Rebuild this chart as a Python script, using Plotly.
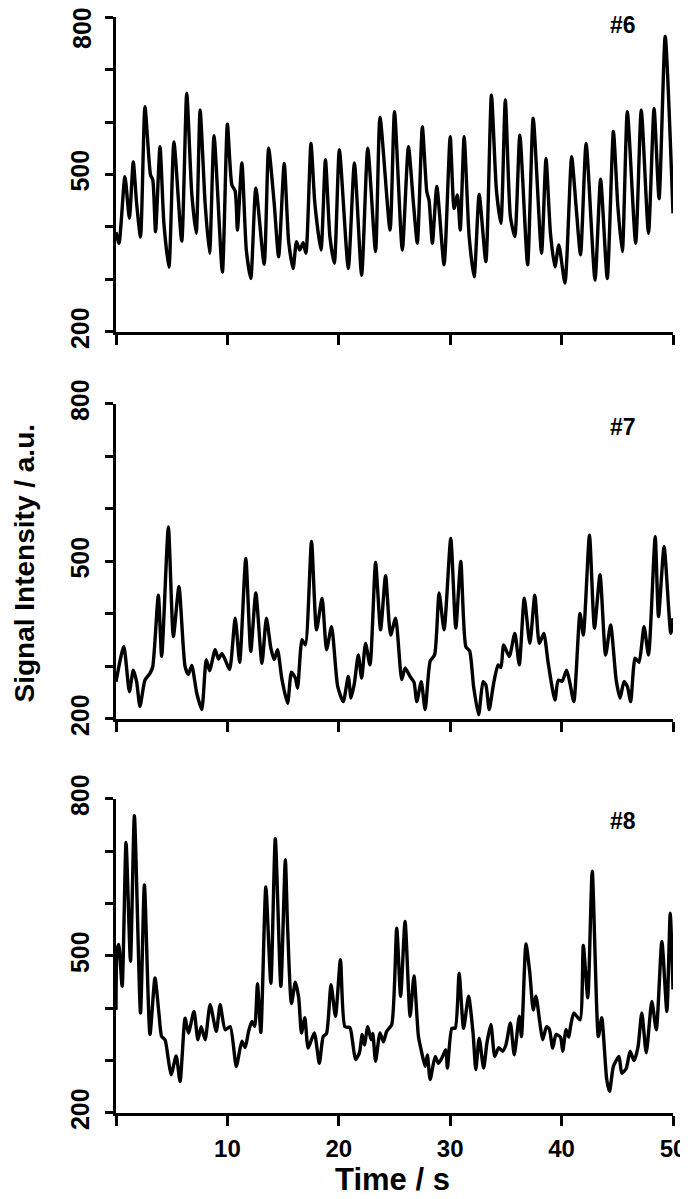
import plotly.graph_objects as go
from plotly.subplots import make_subplots

# signal #6
t6 = [0, 0.27, 0.8, 1.2, 1.55, 1.85, 2.2, 2.6, 3.1, 3.3, 3.55, 3.95, 4.3, 4.75, 5.2, 5.9,
      6.35, 6.8, 7.2, 7.55, 8.0, 8.4, 8.8, 9.55, 10.0, 10.4, 10.7, 10.9, 11.3, 11.7, 12.1,
      12.55, 13.3, 13.7, 14.2, 14.6, 15.1, 15.5, 15.9, 16.2, 16.5, 16.8, 17.05, 17.5, 17.85,
      18.4, 18.8, 19.2, 19.6, 20.05, 20.85, 21.4, 22.05, 22.6, 23.3, 23.7, 24.6, 25.0, 25.7,
      26.25, 26.7, 27.05, 27.5, 27.9, 28.1, 28.4, 28.8, 29.45, 30.0, 30.35, 30.65, 30.9,
      31.25, 31.7, 32.15, 32.6, 33.2, 33.7, 34.15, 34.55, 34.95, 35.4, 35.8, 36.25, 36.95,
      37.45, 38.2, 38.6, 39.0, 39.4, 39.75, 40.3, 40.9, 41.3, 41.7, 42.2, 43.0, 43.5, 44.1,
      44.65, 45.05, 45.45, 45.9, 46.65, 47.15, 47.8, 48.3, 48.75, 49.3, 50.0]
s6 = [390, 369, 496, 417, 524, 445, 381, 629, 499, 490, 391, 553, 407, 323, 562, 373,
      655, 464, 388, 623, 445, 350, 574, 314, 596, 480, 468, 394, 522, 356, 302,
      474, 329, 550, 445, 343, 521, 372, 321, 372, 356, 370, 350, 559, 445,
      356, 528, 382, 331, 547, 321, 522, 308, 550, 353, 609, 394, 620, 356,
      553, 445, 369, 591, 467, 451, 369, 477, 328, 572, 435, 461, 394,
      572, 382, 305, 462, 334, 651, 470, 407, 642, 420, 382, 575, 328,
      607, 350, 530, 388, 324, 366, 293, 534, 439, 347, 559, 299, 491, 302,
      582, 439, 353, 620, 369, 623, 388, 626, 454, 763, 426]

# signal #7
t7 = [0, 0.7, 1.2, 1.55, 1.85, 2.15, 2.6, 3.05, 3.3, 3.8, 4.1, 4.7, 5.15, 5.65, 6.2, 6.5,
      6.8, 7.25, 7.7, 8.1, 8.4, 8.9, 9.2, 9.5, 9.8, 10.2, 10.7, 11.1, 11.65, 12.1, 12.55,
      13.1, 13.5, 13.9, 14.2, 14.5, 14.9, 15.4, 15.75, 16.1, 16.3, 16.7, 17.0, 17.55, 18.0,
      18.5, 18.9, 19.35, 19.9, 20.4, 20.85, 21.1, 21.4, 21.75, 22.05, 22.4, 22.8, 23.3,
      23.75, 24.2, 24.65, 25.1, 25.65, 25.95, 26.4, 26.75, 27.0, 27.4, 27.75, 28.2, 28.6,
      29.0, 29.45, 30.05, 30.5, 30.95, 31.4, 31.75, 32.1, 32.55, 32.95, 33.2, 33.5, 33.9,
      34.3, 34.55, 34.8, 35.3, 35.8, 36.2, 36.65, 37.15, 37.6, 38.0, 38.4, 38.8, 39.4,
      39.7, 40.05, 40.45, 40.75, 41.1, 41.65, 41.95, 42.5, 42.95, 43.45, 43.95, 44.4,
      44.9, 45.25, 45.6, 45.9, 46.2, 46.6, 46.95, 47.4, 47.8, 48.4, 48.7, 49.2, 49.8, 50.0]
s7 = [271, 338, 252, 293, 271, 224, 274, 287, 300, 436, 319, 566, 357, 452, 300, 285,
      302, 249, 218, 313, 292, 332, 314, 325, 313, 294, 392, 308, 506, 329, 440,
      306, 392, 335, 313, 332, 275, 230, 289, 278, 259, 351, 341, 538, 370,
      430, 332, 376, 262, 233, 281, 240, 268, 322, 278, 344, 303, 498,
      370, 473, 360, 392, 275, 297, 281, 270, 233, 271, 218, 310, 322,
      440, 370, 544, 373, 500, 338, 329, 262, 208, 271, 265, 218, 268,
      303, 298, 341, 319, 363, 303, 430, 344, 436, 344, 363, 306, 236,
      274, 272, 293, 268, 233, 401, 360, 550, 373, 475, 322, 379,
      274, 240, 271, 262, 233, 316, 308, 376, 322, 547, 395, 528, 363, 392]

# signal #8
t8 = [0, 0.1, 0.25, 0.55, 0.9, 1.3, 1.65, 2.2, 2.55, 3.05, 3.5, 3.85, 4.1, 4.4, 4.7, 4.95,
      5.4, 5.75, 6.2, 6.5, 7.0, 7.35, 7.65, 8.0, 8.45, 9.0, 9.35, 9.8, 10.25, 10.8, 11.3,
      11.6, 11.9, 12.2, 12.45, 12.7, 13.0, 13.45, 13.9, 14.3, 14.8, 15.2, 15.4, 15.75, 16.1,
      16.4, 16.65, 16.95, 17.25, 17.8, 18.25, 18.6, 18.9, 19.3, 19.7, 20.15, 20.55, 21.0,
      21.25, 21.5, 21.85, 22.1, 22.3, 22.6, 22.9, 23.05, 23.3, 23.7, 24.0, 24.3, 24.75,
      25.2, 25.55, 25.95, 26.4, 26.75, 27.15, 27.45, 27.75, 27.95, 28.2, 28.65, 28.95,
      29.25, 29.6, 29.75, 30.15, 30.45, 30.8, 31.2, 31.65, 32.05, 32.3, 32.6, 33.0, 33.3,
      33.65, 34.0, 34.35, 34.7, 35.0, 35.4, 35.75, 36.2, 36.4, 36.8, 37.15, 37.45, 37.7,
      38.05, 38.3, 38.65, 38.9, 39.2, 39.5, 39.9, 40.1, 40.4, 40.65, 40.8, 41.1, 41.65,
      41.95, 42.35, 42.75, 43.3, 43.6, 44.05, 44.3, 44.65, 45.15, 45.4, 45.8, 46.15, 46.5,
      46.85, 47.2, 47.6, 48.1, 48.5, 49.0, 49.45, 49.75, 50.0]
s8 = [397, 512, 522, 442, 717, 490, 768, 391, 636, 350, 458, 391, 346, 340, 302, 273,
      309, 260, 381, 353, 394, 340, 365, 340, 407, 356, 407, 359, 365, 289, 337,
      325, 356, 375, 365, 447, 354, 632, 448, 724, 442, 684, 557, 409, 450,
      420, 353, 382, 324, 353, 295, 346, 352, 445, 385, 493, 365, 363,
      334, 302, 315, 350, 330, 365, 340, 352, 299, 353, 336, 356, 369,
      553, 423, 566, 385, 462, 346, 315, 289, 311, 264, 308, 295,
      305, 321, 286, 362, 362, 467, 362, 423, 353, 283, 343, 286, 334,
      369, 308, 325, 318, 330, 372, 311, 385, 346, 523, 467, 397, 423,
      372, 340, 365, 360, 324, 350, 345, 318, 359, 345, 365, 391, 378,
      520, 420, 662, 346, 382, 264, 241, 289, 308, 276, 285, 318, 300,
      325, 391, 315, 413, 359, 528, 394, 582, 436]

labels = ["#6", "#7", "#8"]
label_y = [785, 756, 757]
x_ticks = [0, 10, 20, 30, 40, 50]
x_text = ["", "10", "20", "30", "40", "50"]
y_ticks = [200, 300, 400, 500, 600, 700, 800]
y_text = ["200", "", "", "500", "", "", "800"]

FONT = "Liberation Sans, Arial, sans-serif"
TICKFONT = dict(family=FONT, size=25, color="black", weight="bold")

fig = make_subplots(rows=3, cols=1, vertical_spacing=0.065)

for i, (t, s) in enumerate([(t6, s6), (t7, s7), (t8, s8)]):
    fig.add_trace(go.Scatter(x=t, y=s, mode="lines",
                             line=dict(color="black", width=3.4, shape="spline", smoothing=0.6),
                             showlegend=False),
                  row=i + 1, col=1)
    fig.add_annotation(x=45.5, y=label_y[i], text=labels[i], showarrow=False,
                       font=dict(family=FONT, size=23, color="black", weight="bold"),
                       xref="x" + ("" if i == 0 else str(i + 1)),
                       yref="y" + ("" if i == 0 else str(i + 1)))

fig.update_xaxes(range=[0, 50], tickvals=x_ticks, ticktext=x_text, automargin=False,
                 showline=True, linewidth=3, linecolor="black",
                 ticks="outside", ticklen=10, tickwidth=3, tickcolor="black",
                 showgrid=False, zeroline=False, ticklabelstandoff=2,
                 tickfont=dict(family=FONT, size=24, color="black", weight="bold"))
fig.update_xaxes(showticklabels=False, row=1, col=1)
fig.update_xaxes(showticklabels=False, row=2, col=1)

fig.update_yaxes(range=[200, 800], tickvals=y_ticks, ticktext=y_text, tickangle=-90,
                 automargin=False,
                 showline=True, linewidth=3, linecolor="black",
                 ticks="outside", ticklen=8, tickwidth=3, tickcolor="black",
                 showgrid=False, zeroline=False, ticklabelstandoff=6,
                 tickfont=TICKFONT)
# top "800" would fall off the page edge, so it is drawn as an annotation instead
fig.update_yaxes(ticktext=y_text[:-1] + [""], row=1, col=1)
fig.add_annotation(text=y_text[-1], textangle=-90, showarrow=False,
                   xref="paper", yref="y", x=-0.061, y=y_ticks[-1],
                   xanchor="center", yanchor="middle", yshift=-11, font=TICKFONT)

# the page body adds 8px around the figure, so the figure is 8px smaller on each side
fig.update_layout(
    yaxis=dict(domain=[0.7126, 1.0]),
    yaxis2=dict(domain=[0.3595, 0.6469]),
    yaxis3=dict(domain=[0.0, 0.2865]),
    width=680, height=1191,
    margin=dict(l=108, r=15, t=9, b=86),
    paper_bgcolor="white", plot_bgcolor="white",
)

fig.add_annotation(text="Signal Intensity / a.u.", textangle=-90, showarrow=False,
                   xref="paper", yref="paper", x=-0.164, y=0.502,
                   xanchor="center", yanchor="middle",
                   font=dict(family=FONT, size=28, color="black", weight="bold"))
fig.add_annotation(text="Time / s", showarrow=False,
                   xref="paper", yref="paper", x=0.496, y=-0.061,
                   xanchor="center", yanchor="middle",
                   font=dict(family=FONT, size=31, color="black", weight="bold"))

fig.write_html("out.html")
